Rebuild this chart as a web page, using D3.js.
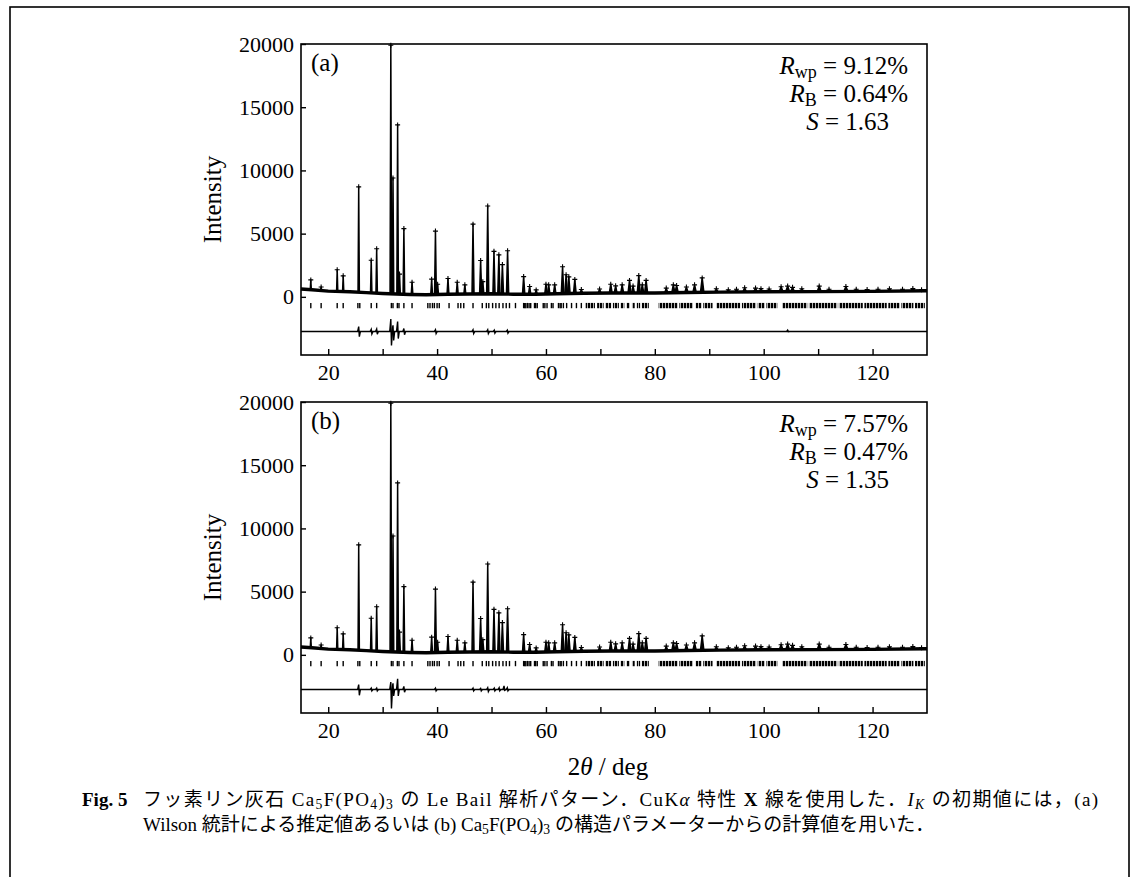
<!DOCTYPE html>
<html lang="ja">
<head>
<meta charset="UTF-8">
<title>Fig. 5 Le Bail</title>
<script src="https://cdnjs.cloudflare.com/ajax/libs/d3/7.8.5/d3.min.js"></script>
<style>
  body { margin: 0; background: #fff; }
  svg { display: block; font-family: "Liberation Serif", "Times New Roman", "Noto Sans CJK JP", serif; }
  .axis path { display: none; }
  .axis line { stroke: #000; stroke-width: 1.4px; }
  .axis text { font-size: 22px; fill: #000; font-family: "Liberation Serif", serif; }
</style>
</head>
<body>
<svg width="1134" height="877"></svg>
<script>
// observed peaks: 2theta (deg) and total intensity at the peak top
const peakPos = [16.8, 18.7, 21.65, 22.75, 25.6, 27.9, 28.9, 31.5, 31.9, 32.75, 33.1, 33.9, 35.4,
  39.0, 39.7, 40.1, 42.0, 43.7, 45.1, 46.6, 48.0, 48.4, 49.3, 50.45, 51.35, 52.0, 52.95,
  55.9, 57.0, 58.2, 60.0, 60.5, 61.6, 63.05, 63.7, 64.2, 65.3, 66.5, 69.85, 71.9, 72.8,
  74.0, 75.35, 76.0, 77.05, 77.7, 78.4, 82.1, 83.4, 84.0, 85.8, 87.3, 88.7, 91.3, 93.5,
  95.0, 96.5, 98.5, 99.5, 101.0, 103.2, 104.4, 105.3, 107.0, 110.2, 112.0, 115.1, 117.0,
  119.0, 121.0, 123.1, 125.5, 127.4, 129.0];
const peakInt = [1340, 780, 2140, 1660, 8700, 2900, 3800, 19900, 9400, 13600, 1800, 5400, 1150,
  1400, 5200, 1000, 1450, 1150, 950, 5750, 2880, 1200, 7180, 3600, 3320, 2550, 3650,
  1600, 820, 550, 1000, 950, 950, 2380, 1750, 1580, 1380, 580, 620, 1000, 870,
  950, 1300, 850, 1680, 950, 1300, 690, 950, 900, 780, 950, 1500, 640, 560,
  600, 720, 690, 650, 620, 800, 850, 750, 640, 850, 600, 820, 600,
  580, 600, 640, 600, 660, 560];

// background level
const bgPos = [15, 17, 20, 24, 27, 30, 35, 38, 42, 46, 50, 54, 58, 62, 67, 72, 80, 86, 92, 100, 110, 120, 130];
const bgInt = [620, 560, 450, 400, 330, 260, 190, 170, 200, 230, 240, 210, 200, 250, 290, 300, 300, 340, 370, 400, 410, 430, 480];

// reflection positions (single marks) and dense runs of marks
const tickPos = [16.8, 18.7, 21.65, 22.75, 25.45, 25.8, 27.9, 28.9, 31.6, 31.9, 32.7, 33.0, 33.9, 35.4,
  38.3, 38.7, 39.15, 39.5, 40.0, 40.4, 42.2, 43.85, 44.35, 44.9, 46.6, 48.3, 49.05, 49.5,
  50.2, 50.8, 51.4, 52.1, 52.7, 53.3, 54.4, 55.9, 56.1, 56.3, 56.6, 56.9, 57.2, 57.9, 58.1,
  58.4, 59.5, 59.8, 60.2, 61.0, 61.3, 62.3, 62.6, 62.8, 63.2, 63.8, 64.7, 65.6, 66.5];
const bandStart = [67.3, 69.4, 70.9, 72.3, 73.7, 74.8, 75.8, 76.7, 77.6, 80.7, 84.5, 87.5, 88.9, 91.3,
  96.0, 98.9, 100.5, 103.4, 108.3, 113.8, 118.5, 122.9, 125.3, 127.8];
const bandEnd = [69.0, 70.6, 72.0, 73.4, 74.4, 75.4, 76.3, 77.3, 78.9, 84.2, 87.0, 88.6, 90.6, 95.7,
  98.6, 100.2, 102.5, 108.0, 113.5, 118.2, 122.6, 125.0, 127.5, 129.6];

// difference curves (obs - calc): spike positions, upward and downward excursions
const diffPosA = [25.6, 27.9, 28.9, 31.5, 31.9, 32.75, 33.9, 39.7, 46.6, 49.3, 50.5, 52.9, 104.4];
const diffUpA = [400, 180, 200, 1000, 500, 800, 250, 150, 150, 150, 120, 120, 120];
const diffDownA = [400, 180, 200, 1100, 700, 550, 250, 150, 150, 150, 120, 120, 0];
const diffPosB = [25.6, 27.9, 28.9, 31.5, 31.9, 32.75, 33.9, 39.7, 46.6, 48.0, 49.3, 50.5, 51.4, 52.3, 52.9];
const diffUpB = [400, 120, 120, 600, 500, 850, 250, 120, 120, 100, 150, 120, 150, 300, 150];
const diffDownB = [450, 100, 100, 1500, 500, 500, 200, 100, 100, 100, 150, 100, 100, 50, 100];

const xTicks = [20, 30, 40, 50, 60, 70, 80, 90, 100, 110, 120];
const yTicks = [0, 5000, 10000, 15000, 20000];
const panelLabels = ["(a)", "(b)"];
const rwpVals = ["9.12%", "7.57%"];
const rbVals = ["0.64%", "0.47%"];
const sVals = ["1.63", "1.35"];

const svg = d3.select("svg");
const tickLevel = [-480, -900];
const diffLevel = -2750;

// hatch for dense reflection marks
svg.append("defs").append("pattern")
  .attr("id", "hatch").attr("patternUnits", "userSpaceOnUse")
  .attr("width", 3).attr("height", 10)
  .append("rect").attr("width", 2.3).attr("height", 10).attr("fill", "#000");

// outer frame
svg.append("rect").attr("x", 10).attr("y", 7).attr("width", 1119).attr("height", 900)
  .attr("fill", "none").attr("stroke", "#000").attr("stroke-width", 1.6);

const x = d3.scaleLinear().domain([15, 130]).range([301, 927]);
const bgAt = d3.scaleLinear().domain(bgPos).range(bgInt);
const peaks = d3.zip(peakPos, peakInt);

function rich(sel, px, py, size, parts, anchor, len) {
  const t = sel.append("text").attr("x", px).attr("y", py).attr("font-size", size)
    .attr("text-anchor", anchor || "start").attr("fill", "#000");
  if (len) t.attr("textLength", len).attr("lengthAdjust", "spacing");
  let shifted = false;
  parts.forEach(p => {
    const s = t.append("tspan").text(p.t);
    if (p.b) s.attr("font-weight", "bold");
    if (p.i) s.attr("font-style", "italic");
    if (p.sub && !shifted) { s.attr("dy", size * 0.16); shifted = true; }
    if (!p.sub && shifted) { s.attr("dy", -size * 0.16); shifted = false; }
    if (p.sub) s.attr("font-size", size * 0.72);
  });
  return t;
}

function drawPanel(k, top, diffPos, diffUp, diffDown) {
  const h = 311;
  const y = d3.scaleLinear().domain([-4600, 20000]).range([top + h, top]);
  const g = svg.append("g");

  // background (observed points, dense)
  g.append("path").datum(d3.zip(bgPos, bgInt))
    .attr("d", d3.line().x(d => x(d[0])).y(d => y(d[1])))
    .attr("fill", "none").attr("stroke", "#000").attr("stroke-width", 3.4);

  // peaks
  g.selectAll(".pk").data(peaks).join("path")
    .attr("d", d => {
      const w = 0.09 + 0.003 * (d[0] - 15);
      return `M${x(d[0] - w)},${y(bgAt(d[0] - w))}L${x(d[0])},${y(d[1])}L${x(d[0] + w)},${y(bgAt(d[0] + w))}Z`;
    })
    .attr("fill", "#000").attr("stroke", "#000").attr("stroke-width", 1.5).attr("stroke-linejoin", "round");
  g.selectAll(".cr").data(peaks).join("path")
    .attr("d", d => `M${x(d[0]) - 2.5},${y(d[1])}h5M${x(d[0])},${y(d[1]) - 2.5}v5`)
    .attr("stroke", "#000").attr("stroke-width", 1.1);

  // reflection marks
  g.selectAll(".tk").data(tickPos).join("line")
    .attr("x1", d => x(d)).attr("x2", d => x(d))
    .attr("y1", y(tickLevel[0])).attr("y2", y(tickLevel[1]))
    .attr("stroke", "#000").attr("stroke-width", 1.4);
  g.selectAll(".bd").data(d3.zip(bandStart, bandEnd)).join("rect")
    .attr("x", d => x(d[0])).attr("width", d => x(d[1]) - x(d[0]))
    .attr("y", y(tickLevel[0])).attr("height", y(tickLevel[1]) - y(tickLevel[0]))
    .attr("fill", "url(#hatch)");

  // difference curve
  g.append("line").attr("x1", x(15)).attr("x2", x(130))
    .attr("y1", y(diffLevel)).attr("y2", y(diffLevel))
    .attr("stroke", "#000").attr("stroke-width", 1.5);
  g.selectAll(".df").data(d3.zip(diffPos, diffUp, diffDown)).join("path")
    .attr("d", d => `M${x(d[0] - 0.2)},${y(diffLevel)}L${x(d[0])},${y(diffLevel + d[1])}L${x(d[0] + 0.12)},${y(diffLevel - d[2])}L${x(d[0] + 0.3)},${y(diffLevel)}`)
    .attr("fill", "none").attr("stroke", "#000").attr("stroke-width", 1.4);

  // axes
  g.append("g").attr("class", "axis").attr("transform", `translate(${x(15)},0)`)
    .call(d3.axisLeft(y).tickValues(yTicks).tickSizeInner(-5).tickSizeOuter(0).tickPadding(7).tickFormat(d3.format("d")));
  g.append("g").attr("class", "axis").attr("transform", `translate(0,${top + h})`)
    .call(d3.axisBottom(x).tickValues(xTicks).tickSizeInner(-6).tickSizeOuter(0).tickPadding(9)
      .tickFormat(d => d % 20 === 0 ? d : ""));
  g.append("rect").attr("x", x(15)).attr("y", top).attr("width", x(130) - x(15)).attr("height", h)
    .attr("fill", "none").attr("stroke", "#000").attr("stroke-width", 1.6);

  g.append("text").attr("transform", `translate(221,${top + h / 2}) rotate(-90)`)
    .attr("text-anchor", "middle").attr("font-size", 25).text("Intensity");

  g.append("text").attr("x", 311).attr("y", top + 27).attr("font-size", 25).text(panelLabels[k]);

  rich(g, 908, top + 30, 25, [{t: "R", i: 1}, {t: "wp", sub: 1}, {t: " = " + rwpVals[k]}], "end");
  rich(g, 908, top + 58, 25, [{t: "R", i: 1}, {t: "B", sub: 1}, {t: " = " + rbVals[k]}], "end");
  rich(g, 889, top + 86, 25, [{t: "S", i: 1}, {t: " = " + sVals[k]}], "end");
}

drawPanel(0, 44, diffPosA, diffUpA, diffDownA);
drawPanel(1, 402, diffPosB, diffUpB, diffDownB);

// x-axis title
rich(svg, 608, 775, 25, [{t: "2"}, {t: "θ", i: 1}, {t: " / deg"}], "middle");

// caption
rich(svg, 82, 806, 19, [{t: "Fig. 5", b: 1}]);
rich(svg, 143, 806, 19, [
  {t: "フッ素リン灰石 Ca"}, {t: "5", sub: 1}, {t: "F(PO"}, {t: "4", sub: 1}, {t: ")"}, {t: "3", sub: 1},
  {t: " の Le Bail 解析パターン．CuK"}, {t: "α", i: 1}, {t: " 特性 "}, {t: "X", b: 1},
  {t: " 線を使用した．"}, {t: "I", i: 1}, {t: "K", sub: 1, i: 1}, {t: " の初期値には，(a)"}], "start", 955);
rich(svg, 143, 831, 19, [
  {t: "Wilson 統計による推定値あるいは (b) Ca"}, {t: "5", sub: 1}, {t: "F(PO"}, {t: "4", sub: 1}, {t: ")"}, {t: "3", sub: 1},
  {t: " の構造パラメーターからの計算値を用いた．"}]);
</script>
</body>
</html>
